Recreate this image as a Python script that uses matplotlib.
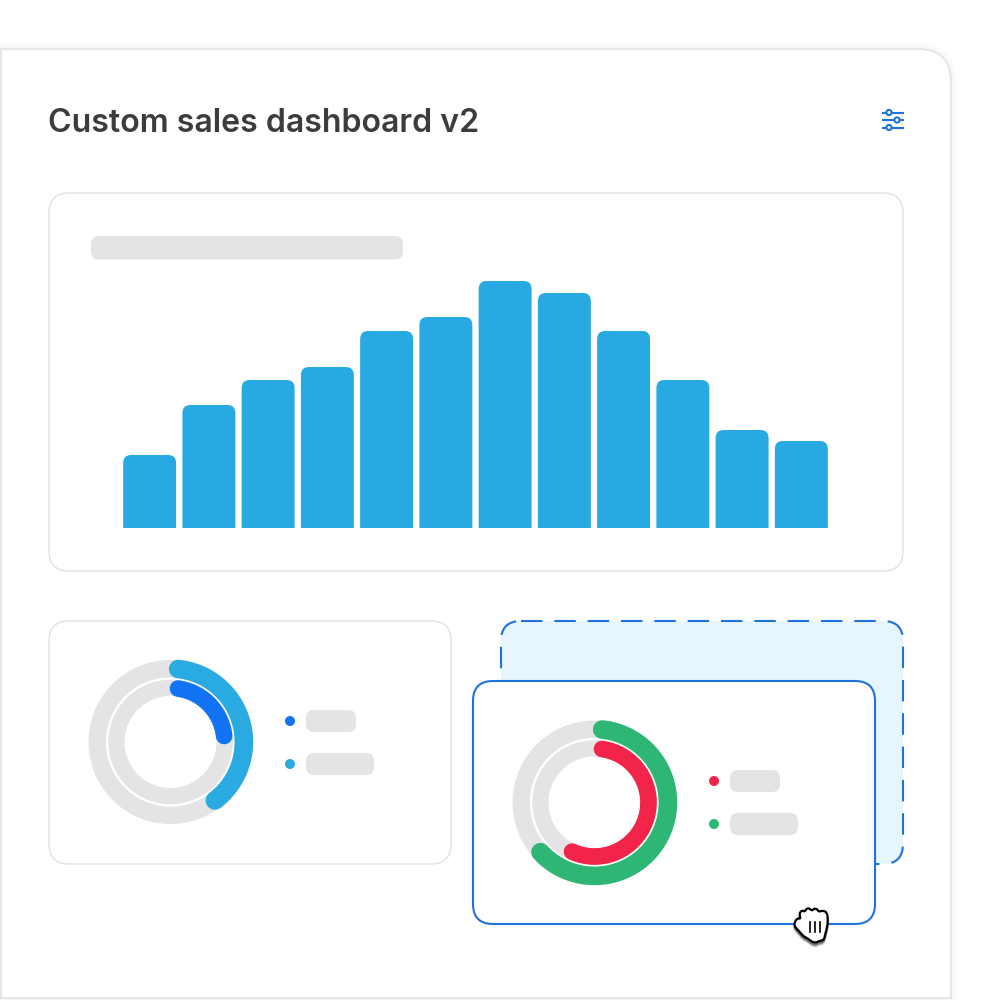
import matplotlib
matplotlib.use("Agg")
import matplotlib.pyplot as plt
import numpy as np
from matplotlib.patches import FancyBboxPatch, PathPatch, Circle, Wedge
from matplotlib.path import Path

plt.rcParams['font.family'] = ['Inter', 'DejaVu Sans']

# chart data
title = "Custom sales dashboard v2"
bar_values = [73, 123, 148, 161, 197, 211, 247, 235, 197, 148, 98, 87]

left_ring_start = [6, 8]
left_ring_share = [38, 21]
left_ring_colors = ['#29abe2', '#1273f5']
right_ring_start = [6, 8]
right_ring_share = [61.5, 54.6]
right_ring_colors = ['#2db674', '#f2244a']

GREY = '#e4e4e6'
EDGE = '#e4e4e6'
BLUE = '#1f72e0'

fig = plt.figure(figsize=(10, 10), dpi=100)
ax = fig.add_axes([0, 0, 1, 1])
ax.set_xlim(0, 1000)
ax.set_ylim(1000, 0)
ax.axis('off')


def card(x0, y0, x1, y1, r, fc='white', ec=EDGE, lw=1.1, ls='-', z=1):
    p = FancyBboxPatch((x0 + r, y0 + r), x1 - x0 - 2 * r, y1 - y0 - 2 * r,
                       boxstyle="round,pad=%g,rounding_size=%g" % (r, r),
                       fc=fc, ec=ec, lw=lw, ls=ls, zorder=z)
    ax.add_patch(p)
    return p


def ring(cx, cy, starts, shares, colors, z):
    ax.add_patch(Wedge((cx, cy), 82, 0, 360, width=36, fc=GREY, ec='none', zorder=z))
    ax.add_patch(Circle((cx, cy), 63.4, fc='none', ec='white', lw=1.7, zorder=z + 0.1))
    for r, w, s, v, c in zip([73.4, 54], [13.4, 12], starts, shares, colors):
        # clockwise from twelve o'clock
        t = np.radians(np.linspace(s, s + v * 3.6, 200))
        ax.plot(cx + r * np.sin(t), cy - r * np.cos(t), color=c, lw=w,
                solid_capstyle='round', zorder=z + 0.2)


def legend(x, y_dots, pills, colors, z):
    for y, w, c in zip(y_dots, pills, colors):
        ax.add_patch(Circle((x, y), 5, fc=c, ec='none', zorder=z))
        card(x + 16, y - 11, x + 16 + w, y + 11, 8, fc=GREY, ec='none', lw=0, z=z)


def smooth(pts):
    # closed curve through the midpoints of the outline points
    pts = np.array(pts, dtype=float)
    mid = (pts + np.roll(pts, -1, axis=0)) / 2
    verts = [mid[-1]]
    codes = [Path.MOVETO]
    for i in range(len(pts)):
        verts += [pts[i], mid[i]]
        codes += [Path.CURVE3, Path.CURVE3]
    return Path(verts, codes)


# outer panel, only the top right corner is round
panel = Path([(1, 998), (1, 49), (918, 49), (951, 49), (951, 82), (951, 998), (1, 998)],
             [Path.MOVETO, Path.LINETO, Path.LINETO, Path.CURVE3, Path.CURVE3, Path.LINETO, Path.CLOSEPOLY])
for w in [9, 7, 5, 3.5]:
    ax.add_patch(PathPatch(panel, fc='none', ec='#000000', lw=w, alpha=0.006, zorder=0.5))
ax.add_patch(PathPatch(panel, fc='white', ec='#e6e6e6', lw=1.5, zorder=0.6))

ax.text(48.5, 120, title, fontsize=23.1, fontweight='semibold', color='#3c3c3e',
        ha='left', va='center_baseline', zorder=5)

# filter icon top right
for y, cx in zip([112.5, 120, 127.5], [889, 897, 889]):
    ax.plot([882, 904], [y, y], color=BLUE, lw=1.5, solid_capstyle='butt', zorder=5)
    ax.add_patch(Circle((cx, y), 2.6, fc='white', ec=BLUE, lw=1.5, zorder=6))

# big bar card
card(49, 193, 903, 571, 20, z=1)
card(91, 236, 403, 259.5, 8, fc=GREY, ec='none', lw=0, z=2)

bar_ax = fig.add_axes([123 / 1000, 1 - 528 / 1000, 705 / 1000, 247 / 1000])
bar_ax.set_xlim(-0.5 + 0.05, len(bar_values) - 0.5 - 0.05)
bar_ax.set_ylim(0, 247)
bar_ax.axis('off')
bars = bar_ax.bar(range(len(bar_values)), bar_values, width=53 / 59.3, color='#29a9e1')
# round the top corners of each bar
rx = 8 / 59.3
ry = 8
for b in bars:
    x0, w, h = b.get_x(), b.get_width(), b.get_height()
    verts = [(x0, 0), (x0, h - ry), (x0, h), (x0 + rx, h), (x0 + w - rx, h),
             (x0 + w, h), (x0 + w, h - ry), (x0 + w, 0), (x0, 0)]
    codes = [Path.MOVETO, Path.LINETO, Path.CURVE3, Path.CURVE3, Path.LINETO,
             Path.CURVE3, Path.CURVE3, Path.LINETO, Path.CLOSEPOLY]
    b.set_visible(False)
    bar_ax.add_patch(PathPatch(Path(verts, codes), fc='#29a9e1', ec='none'))

# left donut card
card(49, 621, 451, 864, 20, z=1)
ring(170.5, 742, left_ring_start, left_ring_share, left_ring_colors, 2)
legend(290, [721, 764], [50, 68], ['#1273f5', '#29abe2'], 2)

# dashed drop target
card(501, 621, 903, 864, 20, fc='#e7f5fd', ec='none', lw=0, z=3)
card(501, 621, 903, 864, 20, fc='none', ec=BLUE, lw=1.5, ls=(0, (10.3, 5.7)), z=3.1)

# dragged card
card(473, 681, 875, 924, 20, ec=BLUE, lw=1.5, z=4)
ring(594.5, 802.5, right_ring_start, right_ring_share, right_ring_colors, 5)
legend(714, [781, 824], [50, 68], ['#f2244a', '#2db674'], 5)

# hand cursor
hand = [(794, 924), (797, 918), (801, 919), (799, 914), (802, 910), (805, 912), (806, 909),
        (809, 908), (812, 911), (814, 908.5), (817, 909), (819, 912), (822, 910.5), (827, 912),
        (828, 920), (827, 928), (825, 935), (824, 940), (819, 941), (815, 943), (811, 941),
        (807, 938), (803, 936), (799, 931), (795, 927)]
outline = smooth(hand)
for off, a in zip([1, 2, 3], [0.25, 0.15, 0.1]):
    ax.add_patch(PathPatch(Path(outline.vertices + [0, off + 1], outline.codes), fc='black', ec='black',
                           lw=1.5, alpha=a, zorder=7))
ax.add_patch(PathPatch(outline, fc='white', ec='black', lw=1.6, joinstyle='round', zorder=8))
for x in [810, 815, 820]:
    ax.plot([x, x], [922, 932], color='black', lw=1.2, zorder=9)

fig.savefig('out.png', dpi=100)
